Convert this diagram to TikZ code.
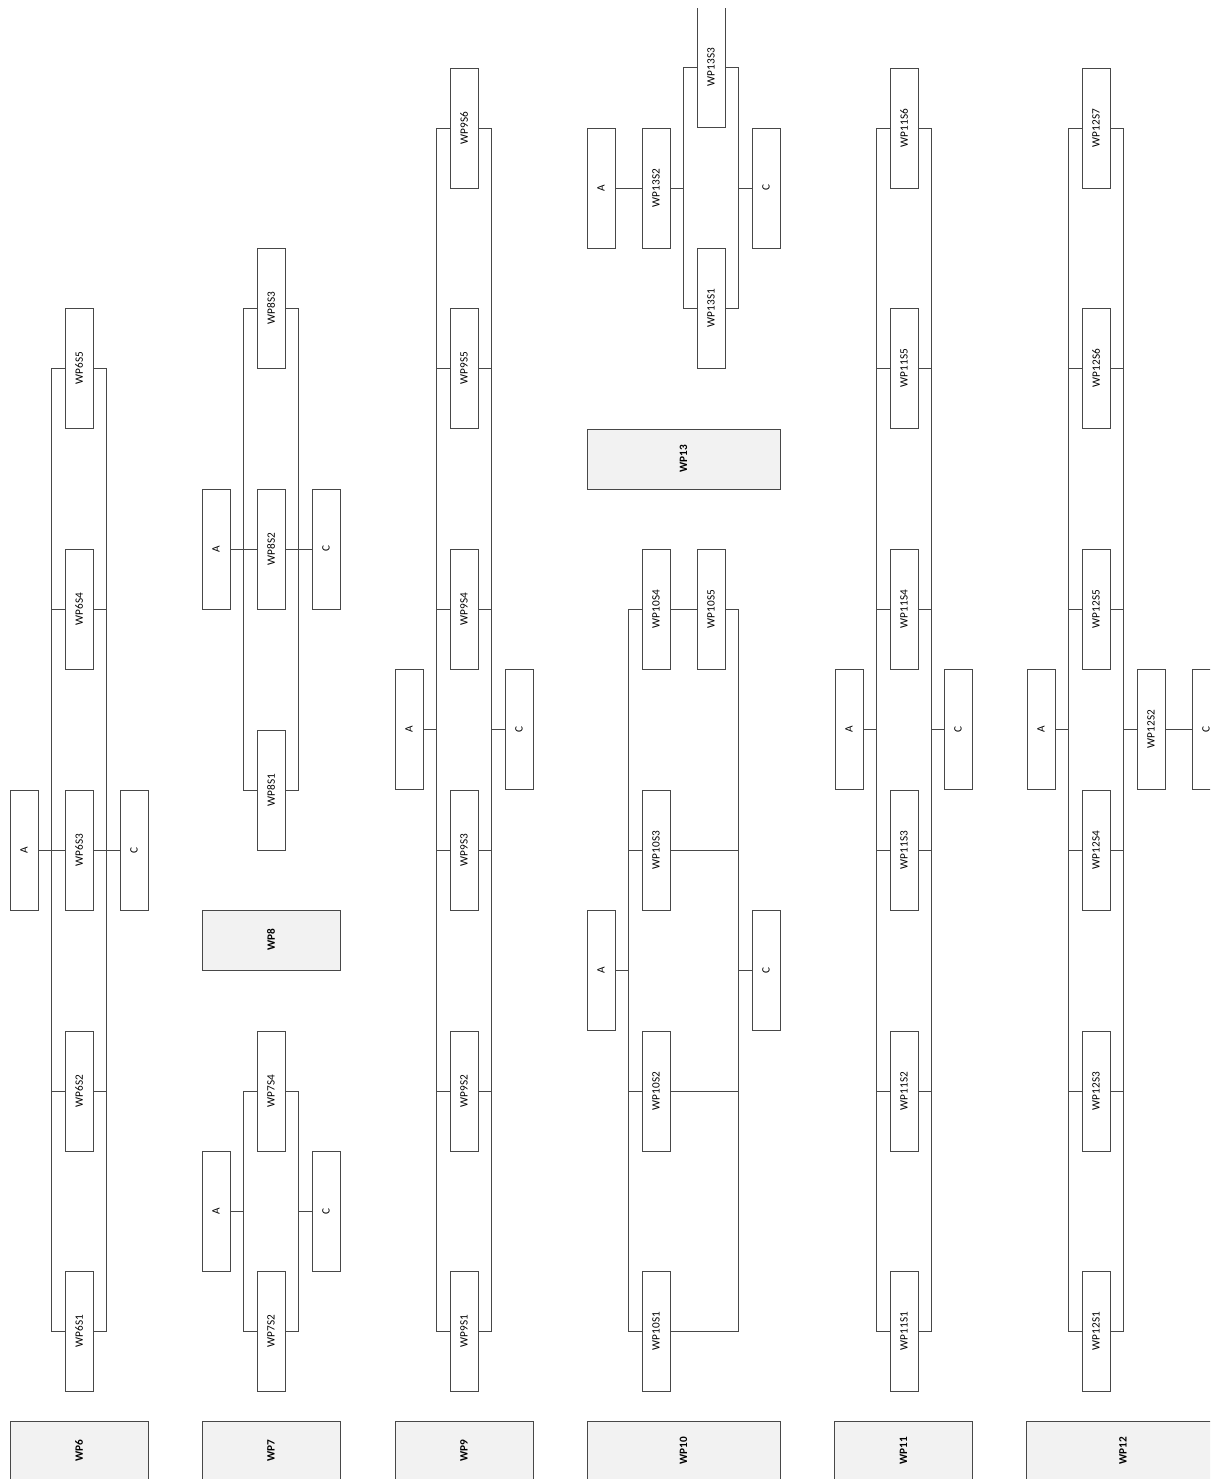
\documentclass[tikz,border=0pt]{standalone}
\usepackage{fontspec}
\setmainfont{Carlito}
\definecolor{wpline}{RGB}{72,72,72}
\definecolor{wpfill}{RGB}{242,242,242}
\newcommand{\uptext}[1]{\rotatebox{90}{#1}}
\tikzset{
  stepbox/.style={draw=wpline, fill=white, line width=0.5pt, minimum width=0.56cm,
                  minimum height=2.4cm, inner sep=0pt, font=\fontsize{6.4}{7}\selectfont},
  wphead/.style={draw=wpline, fill=wpfill, line width=0.5pt, minimum width=2.76cm,
                 minimum height=1.2cm, inner sep=0pt, font=\fontsize{6.4}{7}\selectfont\bfseries},
  widehead/.style={wphead, minimum width=3.86cm},
  wire/.style={draw=wpline, line width=0.5pt}
}

\begin{document}
\begin{tikzpicture}[x=0.02cm, y=-0.02cm]
\useasboundingbox (0,0) rectangle (1210,1479);
\clip (0,8.5) rectangle (1210,1479);
% WP6
\node[stepbox] (a6) at (24,850) {\uptext{A}};
\node[stepbox] (s61) at (79,1331) {\uptext{WP6S1}};
\node[stepbox] (s62) at (79,1091) {\uptext{WP6S2}};
\node[stepbox] (s63) at (79,850) {\uptext{WP6S3}};
\node[stepbox] (s64) at (79,609) {\uptext{WP6S4}};
\node[stepbox] (s65) at (79,368) {\uptext{WP6S5}};
\node[stepbox] (c6) at (134,850) {\uptext{C}};
\node[wphead] (h6) at (79,1451) {\uptext{WP6}};
\coordinate (l6) at (51,0);
\coordinate (r6) at (106,0);
\draw[wire] (s61.west) -- (s61.west -| l6) -- (s65.west -| l6) -- (s65.west);
\draw[wire] (s61.east) -- (s61.east -| r6) -- (s65.east -| r6) -- (s65.east);
\draw[wire] (s62.west) -- (s62.west -| l6) (s64.west) -- (s64.west -| l6);
\draw[wire] (s62.east) -- (s62.east -| r6) (s64.east) -- (s64.east -| r6);
\draw[wire] (a6) -- (s63) -- (c6);
% WP7 and WP8
\coordinate (l78) at (243,0);
\coordinate (r78) at (298,0);
\node[stepbox] (a7) at (216,1211) {\uptext{A}};
\node[stepbox] (s72) at (271,1331) {\uptext{WP7S2}};
\node[stepbox] (s74) at (271,1091) {\uptext{WP7S4}};
\node[stepbox] (c7) at (326,1211) {\uptext{C}};
\node[wphead] (h7) at (271,1451) {\uptext{WP7}};
\draw[wire] (s72.west) -- (s72.west -| l78) -- (s74.west -| l78) -- (s74.west);
\draw[wire] (s72.east) -- (s72.east -| r78) -- (s74.east -| r78) -- (s74.east);
\draw[wire] (a7.east) -- (a7.east -| l78) (c7.west) -- (c7.west -| r78);
\node[wphead] (h8) at (271,940) {\uptext{WP8}};
\node[stepbox] (a8) at (216,549) {\uptext{A}};
\node[stepbox] (s81) at (271,790) {\uptext{WP8S1}};
\node[stepbox] (s82) at (271,549) {\uptext{WP8S2}};
\node[stepbox] (s83) at (271,308) {\uptext{WP8S3}};
\node[stepbox] (c8) at (326,549) {\uptext{C}};
\draw[wire] (s81.west) -- (s81.west -| l78) -- (s83.west -| l78) -- (s83.west);
\draw[wire] (s81.east) -- (s81.east -| r78) -- (s83.east -| r78) -- (s83.east);
\draw[wire] (a8) -- (s82) -- (c8);
% WP9
\coordinate (l9) at (436,0);
\coordinate (r9) at (491,0);
\node[stepbox] (a9) at (409,729) {\uptext{A}};
\node[stepbox] (s91) at (464,1331) {\uptext{WP9S1}};
\node[stepbox] (s92) at (464,1091) {\uptext{WP9S2}};
\node[stepbox] (s93) at (464,850) {\uptext{WP9S3}};
\node[stepbox] (s94) at (464,609) {\uptext{WP9S4}};
\node[stepbox] (s95) at (464,368) {\uptext{WP9S5}};
\node[stepbox] (s96) at (464,128) {\uptext{WP9S6}};
\node[stepbox] (c9) at (519,729) {\uptext{C}};
\node[wphead] (h9) at (464,1451) {\uptext{WP9}};
\draw[wire] (s91.west) -- (s91.west -| l9) -- (s96.west -| l9) -- (s96.west);
\draw[wire] (s91.east) -- (s91.east -| r9) -- (s96.east -| r9) -- (s96.east);
\draw[wire] (s92.west) -- (s92.west -| l9) (s93.west) -- (s93.west -| l9)
  (s94.west) -- (s94.west -| l9) (s95.west) -- (s95.west -| l9);
\draw[wire] (s92.east) -- (s92.east -| r9) (s93.east) -- (s93.east -| r9)
  (s94.east) -- (s94.east -| r9) (s95.east) -- (s95.east -| r9);
\draw[wire] (a9.east) -- (a9.east -| l9) (c9.west) -- (c9.west -| r9);
% WP10
\coordinate (l10) at (628,0);
\coordinate (r10) at (738,0);
\node[stepbox] (a10) at (601,970) {\uptext{A}};
\node[stepbox] (s101) at (656,1331) {\uptext{WP10S1}};
\node[stepbox] (s102) at (656,1091) {\uptext{WP10S2}};
\node[stepbox] (s103) at (656,850) {\uptext{WP10S3}};
\node[stepbox] (s104) at (656,609) {\uptext{WP10S4}};
\node[stepbox] (s105) at (711,609) {\uptext{WP10S5}};
\node[stepbox] (c10) at (766,970) {\uptext{C}};
\node[widehead] (h10) at (683.5,1451) {\uptext{WP10}};
\draw[wire] (s101.west) -- (s101.west -| l10) -- (s104.west -| l10) -- (s104.west);
\draw[wire] (s101.east) -- (s101.east -| r10) -- (s105.east -| r10) -- (s105.east);
\draw[wire] (s102.west) -- (s102.west -| l10) (s103.west) -- (s103.west -| l10);
\draw[wire] (s102.east) -- (s102.east -| r10) (s103.east) -- (s103.east -| r10);
\draw[wire] (s104) -- (s105);
\draw[wire] (a10.east) -- (a10.east -| l10) (c10.west) -- (c10.west -| r10);
% WP13
\coordinate (l13) at (683,0);
\coordinate (r13) at (738,0);
\node[widehead] (h13) at (683.5,459) {\uptext{WP13}};
\node[stepbox] (a13) at (601,188) {\uptext{A}};
\node[stepbox] (s131) at (711,308) {\uptext{WP13S1}};
\node[stepbox] (s132) at (656,188) {\uptext{WP13S2}};
\node[stepbox] (s133) at (711,67) {\uptext{WP13S3}};
\node[stepbox] (c13) at (766,188) {\uptext{C}};
\draw[wire] (s131.west) -- (s131.west -| l13) -- (s133.west -| l13) -- (s133.west);
\draw[wire] (s131.east) -- (s131.east -| r13) -- (s133.east -| r13) -- (s133.east);
\draw[wire] (a13) -- (s132);
\draw[wire] (s132.east) -- (s132.east -| l13) (c13.west) -- (c13.west -| r13);
% WP11
\coordinate (l11) at (876,0);
\coordinate (r11) at (931,0);
\node[stepbox] (a11) at (849,729) {\uptext{A}};
\node[stepbox] (s111) at (904,1331) {\uptext{WP11S1}};
\node[stepbox] (s112) at (904,1091) {\uptext{WP11S2}};
\node[stepbox] (s113) at (904,850) {\uptext{WP11S3}};
\node[stepbox] (s114) at (904,609) {\uptext{WP11S4}};
\node[stepbox] (s115) at (904,368) {\uptext{WP11S5}};
\node[stepbox] (s116) at (904,128) {\uptext{WP11S6}};
\node[stepbox] (c11) at (958,729) {\uptext{C}};
\node[wphead] (h11) at (903.5,1451) {\uptext{WP11}};
\draw[wire] (s111.west) -- (s111.west -| l11) -- (s116.west -| l11) -- (s116.west);
\draw[wire] (s111.east) -- (s111.east -| r11) -- (s116.east -| r11) -- (s116.east);
\draw[wire] (s112.west) -- (s112.west -| l11) (s113.west) -- (s113.west -| l11)
  (s114.west) -- (s114.west -| l11) (s115.west) -- (s115.west -| l11);
\draw[wire] (s112.east) -- (s112.east -| r11) (s113.east) -- (s113.east -| r11)
  (s114.east) -- (s114.east -| r11) (s115.east) -- (s115.east -| r11);
\draw[wire] (a11.east) -- (a11.east -| l11) (c11.west) -- (c11.west -| r11);
% WP12
\coordinate (l12) at (1068,0);
\coordinate (r12) at (1123,0);
\node[stepbox] (a12) at (1041,729) {\uptext{A}};
\node[stepbox] (s121) at (1096,1331) {\uptext{WP12S1}};
\node[stepbox] (s123) at (1096,1091) {\uptext{WP12S3}};
\node[stepbox] (s124) at (1096,850) {\uptext{WP12S4}};
\node[stepbox] (s125) at (1096,609) {\uptext{WP12S5}};
\node[stepbox] (s126) at (1096,368) {\uptext{WP12S6}};
\node[stepbox] (s127) at (1096,128) {\uptext{WP12S7}};
\node[stepbox] (s122) at (1151,729) {\uptext{WP12S2}};
\node[stepbox] (c12) at (1206,729) {\uptext{C}};
\node[widehead] (h12) at (1123,1451) {\uptext{WP12}};
\draw[wire] (s121.west) -- (s121.west -| l12) -- (s127.west -| l12) -- (s127.west);
\draw[wire] (s121.east) -- (s121.east -| r12) -- (s127.east -| r12) -- (s127.east);
\draw[wire] (s123.west) -- (s123.west -| l12) (s124.west) -- (s124.west -| l12)
  (s125.west) -- (s125.west -| l12) (s126.west) -- (s126.west -| l12);
\draw[wire] (s123.east) -- (s123.east -| r12) (s124.east) -- (s124.east -| r12)
  (s125.east) -- (s125.east -| r12) (s126.east) -- (s126.east -| r12);
\draw[wire] (a12.east) -- (a12.east -| l12) (s122.west) -- (s122.west -| r12);
\draw[wire] (s122) -- (c12);
\end{tikzpicture}
\end{document}
